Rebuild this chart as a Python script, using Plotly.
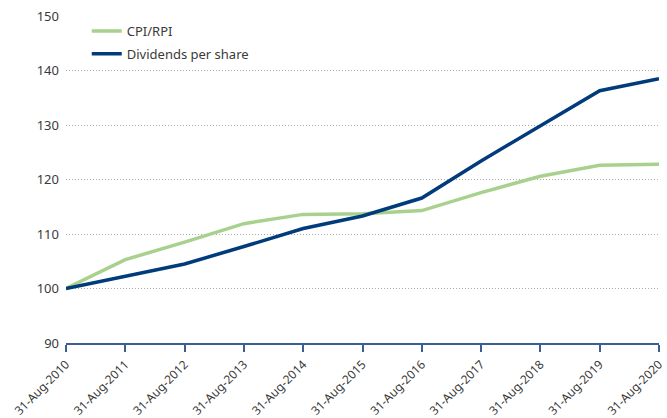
import plotly.graph_objects as go

dates = ["31-Aug-2010", "31-Aug-2011", "31-Aug-2012", "31-Aug-2013", "31-Aug-2014",
         "31-Aug-2015", "31-Aug-2016", "31-Aug-2017", "31-Aug-2018", "31-Aug-2019", "31-Aug-2020"]
cpi_rpi = [100, 105.3, 108.5, 111.9, 113.6, 113.7, 114.3, 117.6, 120.6, 122.6, 122.8]
dividends = [100, 102.3, 104.5, 107.7, 111.0, 113.3, 116.6, 123.4, 129.8, 136.3, 138.5]
y_ticks = [90, 100, 110, 120, 130, 140, 150]

xs = list(range(len(dates)))

fig = go.Figure()
fig.add_trace(go.Scatter(x=xs, y=cpi_rpi, mode="lines", name="CPI/RPI",
                         line=dict(color="#a9d18e", width=3.5), legendgroup="a"))
fig.add_trace(go.Scatter(x=xs, y=dividends, mode="lines", name="Dividends per share",
                         line=dict(color="#003b7c", width=3.5), legendgroup="b"))

fig.update_layout(
    width=667, height=418,
    margin=dict(l=66, r=8, t=16, b=75),
    paper_bgcolor="white", plot_bgcolor="white",
    font=dict(family="Noto Sans, Open Sans, sans-serif", size=13, color="#3a3a3a"),
    showlegend=True,
    legend=dict(x=0.035, y=1.0, xanchor="left", yanchor="top", bgcolor="rgba(0,0,0,0)",
                tracegroupgap=3, traceorder="grouped", font=dict(size=13)),
    xaxis=dict(range=[0, 10], tickmode="array", tickvals=xs, ticktext=dates,
               tickangle=-45, showgrid=False, zeroline=False, automargin=False,
               showline=True, linecolor="#3a5f94", linewidth=1.5,
               ticks="outside", tickcolor="#3a5f94", ticklen=7, tickwidth=1.5,
               ticklabelstandoff=1,
               tickfont=dict(size=12, color="#3a3a3a")),
    yaxis=dict(range=[90, 150], tickvals=y_ticks, showgrid=True, automargin=False,
               gridcolor="#aaaaaa", griddash="1px,2px", gridwidth=1,
               zeroline=False, showline=False, ticks="", ticklabelstandoff=6,
               tickfont=dict(size=13, color="#3a3a3a")),
)

fig.write_html("out.html")
